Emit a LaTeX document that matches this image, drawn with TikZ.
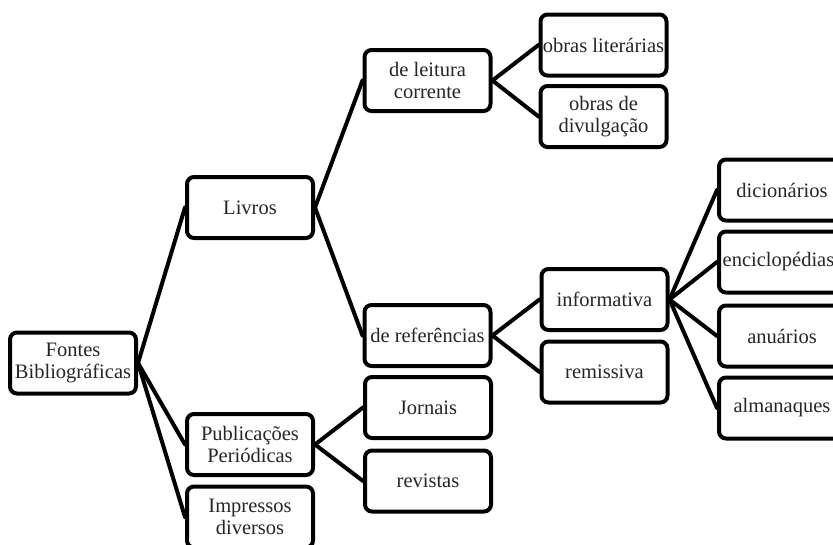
\documentclass[tikz,border=0pt]{standalone}
\usepackage{fontspec}
\setmainfont{Liberation Serif}
\begin{document}
\begin{tikzpicture}[x=1pt,y=-1pt,
  box/.style={draw=black, line width=4pt, rounded corners=7pt, fill=white,
    minimum width=126pt, minimum height=61pt, inner sep=1pt, align=center,
    text=black!85, font=\fontsize{20.5}{22}\selectfont},
  link/.style={line width=4pt, line cap=round}]
\useasboundingbox (0,0) rectangle (833,544);
\clip (0,0) rectangle (833,544);
% level 0
\node[box] (F) at (73,363) {Fontes\\Bibliográficas};
% level 1
\node[box] (L) at (250,207.5) {Livros};
\node[box] (P) at (250,444.5) {Publicações\\Periódicas};
\node[box] (I) at (250,517) {Impressos\\diversos};
% level 2
\node[box] (DLC) at (427.5,80.5) {de leitura\\corrente};
\node[box] (DR) at (427.5,335.5) {de referências};
\node[box] (J) at (428,407.5) {Jornais};
\node[box] (R) at (428,481) {revistas};
% level 3
\node[box] (OL) at (603.5,45) {obras literárias};
\node[box] (OD) at (603.5,116.5) {obras de\\divulgação};
\node[box] (INF) at (604.5,299.5) {informativa};
\node[box] (REM) at (604.5,372) {remissiva};
% level 4 (right column runs past the right edge)
\node[box] (DIC) at (782,190) {dicionários};
\node[box] (ENC) at (782,262) {enciclopédias\hspace*{7pt}};
\node[box] (ANU) at (782,336) {anuários};
\node[box] (ALM) at (782,408) {almanaques};
% connectors: parent's right side to child's left side
\foreach \a/\b in {F/L,F/P,F/I,L/DLC,L/DR,P/J,P/R,DLC/OL,DLC/OD,DR/INF,DR/REM,INF/DIC,INF/ENC,INF/ANU,INF/ALM}
  \draw[link] (\a.east) -- (\b.west);
\end{tikzpicture}
\end{document}
